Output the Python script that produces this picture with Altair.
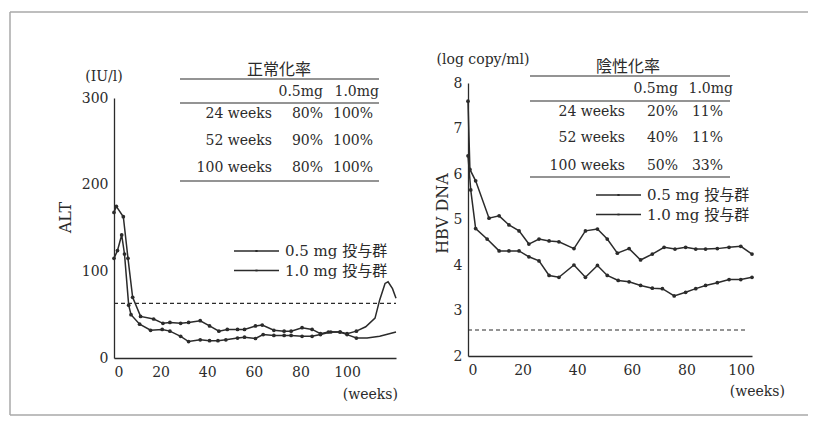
import altair as alt
import pandas as pd

# ---------------- data ----------------
GROUPS = ["0.5 mg 投与群", "1.0 mg 投与群"]
WEEK_TICKS = [0, 20, 40, 60, 80, 100]
ALT_TICKS = [0, 100, 200, 300]
DNA_TICKS = [2, 3, 4, 5, 6, 7, 8]

# ALT (IU/l)
alt05_weeks = [0, 1, 4, 6, 8, 11.4, 17, 21, 24, 28.6, 32, 37, 41, 45, 48.6, 53, 56, 60.7,
               63.6, 68.6, 73, 76, 80.7, 85, 88.6, 92, 97, 100, 104, 108, 112, 114, 116.3,
               117.6, 119.5, 121]
alt05_vals = [168, 175, 163, 115, 70, 48, 45, 40, 41, 40, 41, 43, 37, 31, 33, 33, 33, 37,
              38, 32, 31, 31, 35, 33, 28, 30, 30, 28, 31, 36, 46, 67, 86,
              88, 80, 69]
alt10_weeks = [0, 1.5, 3.3, 4.5, 6.3, 7.3, 11, 15.7, 20.7, 24, 28.6, 32, 37, 41, 44.6, 48,
               53, 56, 60.7, 64, 68.6, 73, 76, 80.7, 85, 88.6, 93, 97, 100, 104, 108.6,
               114, 121]
alt10_vals = [115, 124, 142, 120, 61, 50, 39, 32, 33, 31, 25, 19, 21, 20, 20, 21,
              23, 24, 22.5, 27, 26, 26, 26, 25, 25, 27, 30, 30, 27, 23, 23,
              25, 30]
ALT_ULN = 63

# HBV DNA (log copy/ml)
dna05_weeks = [0, 0.7, 2.8, 7.7, 11.4, 15, 18.7, 22.3, 26, 29.7, 33.3, 38.8, 43, 47.4, 51,
               54.7, 59, 63.2, 67.5, 71.8, 75.8, 79.7, 83.4, 87, 91.3, 95.6, 99.9, 104]
dna05_vals = [7.6, 6.1, 5.85, 5.03, 5.08, 4.88, 4.75, 4.46, 4.57, 4.53, 4.51, 4.36, 4.75,
              4.79, 4.57, 4.26, 4.36, 4.11, 4.24, 4.39, 4.35, 4.39, 4.35, 4.35, 4.36, 4.39,
              4.41, 4.24]
dna10_weeks = [0, 1, 2.8, 7, 11.4, 15, 18.7, 22.3, 26, 29.7, 33.3, 38.8, 43, 47.4, 51, 55,
               59, 63.2, 67.5, 71.2, 75.5, 79.7, 83.4, 87, 91.3, 95.6, 99.9, 104]
dna10_vals = [6.4, 5.65, 4.8, 4.57, 4.31, 4.31, 4.31, 4.18, 4.09, 3.77, 3.73, 4.0, 3.73,
              3.99, 3.77, 3.66, 3.63, 3.55, 3.49, 3.48, 3.32, 3.40, 3.48, 3.55, 3.61, 3.68,
              3.68, 3.73]
DNA_LIMIT = 2.57
DNA_LIMIT_END = 102

# tables
table_cols = ["0.5mg", "1.0mg"]
table_rows = ["24 weeks", "52 weeks", "100 weeks"]
alt_title = "正常化率"
alt_rate05 = ["80%", "90%", "80%"]
alt_rate10 = ["100%", "100%", "100%"]
dna_title = "陰性化率"
dna_rate05 = ["20%", "40%", "50%"]
dna_rate10 = ["11%", "11%", "33%"]

# ---------------- styling ----------------
INK = "#2b2b2b"
SERIF = "DejaVu Serif, Noto Sans CJK JP"
CJK = "Noto Sans CJK JP"
ONE = pd.DataFrame({"k": [0]})
SYM = "M-1,0L1,0M-0.02,-0.02L0.02,-0.02L0.02,0.02L-0.02,0.02Z"


def text(s, x, y, align="left", size=14, font=SERIF):
    return alt.Chart(ONE).mark_text(text=s, align=align, baseline="middle", font=font,
                                    fontSize=size, color=INK).encode(
        x=alt.value(x), y=alt.value(y))


def hline(x1, x2, y, color=INK, width=1.2):
    return alt.Chart(ONE).mark_rule(color=color, strokeWidth=width).encode(
        x=alt.value(x1), x2=alt.value(x2), y=alt.value(y))


def vbar(x1, x2, y1, y2, color=INK):
    return alt.Chart(ONE).mark_rect(color=color, strokeWidth=0).encode(
        x=alt.value(x1), x2=alt.value(x2), y=alt.value(y1), y2=alt.value(y2))


def table(title, r05, r10, g):
    layers = [text(title, g["cx"], g["yt"], align="center", size=16, font=CJK),
              hline(g["x1"], g["x2"], g["l1"]),
              text(table_cols[0], g["c1"], g["yh"], align="right"),
              text(table_cols[1], g["c2h"], g["yh"], align="right"),
              hline(g["x1"], g["x2"], g["l2"]),
              hline(g["x1"], g["x2"], g["l3"])]
    for i, row in enumerate(table_rows):
        layers.append(text(row, g["lab"], g["rows"][i], align="right"))
        layers.append(text(r05[i], g["c1"], g["rows"][i], align="right"))
        layers.append(text(r10[i], g["c2"], g["rows"][i], align="right"))
    return layers


def frame(wa, va, wb, vb):
    return pd.concat([
        pd.DataFrame({"week": wa, "value": va, "group": GROUPS[0]}),
        pd.DataFrame({"week": wb, "value": vb, "group": GROUPS[1]}),
    ], ignore_index=True)


def legend(lx, ly):
    return alt.Legend(orient="none", legendX=lx, legendY=ly, title=None, symbolType=SYM,
                      symbolSize=2025, symbolStrokeWidth=1.3, clipHeight=16, rowPadding=3.5,
                      labelFont=SERIF, labelFontSize=15, labelColor=INK, labelOffset=5,
                      padding=0)


H = 275

# ---------------- ALT panel ----------------
alt_df = frame(alt05_weeks, alt05_vals, alt10_weeks, alt10_vals)
x_alt = alt.X("week:Q", scale=alt.Scale(domain=[0, 121], nice=False, zero=False),
              axis=alt.Axis(values=WEEK_TICKS, title=None, labelPadding=7, format="d"))
y_alt = alt.Y("value:Q", scale=alt.Scale(domain=[0, 300], range=[H, 15], nice=False),
              axis=alt.Axis(values=ALT_TICKS, title="ALT", titleAngle=270, titleX=-49,
                            titleY=134, titleAlign="center", titleBaseline="middle",
                            labelPadding=6, format="d"))
base_alt = alt.Chart(alt_df)
alt_lines = base_alt.mark_line(strokeWidth=1.5).encode(
    x=x_alt, y=y_alt,
    color=alt.Color("group:N", scale=alt.Scale(domain=GROUPS, range=[INK, INK]),
                    legend=legend(119, 160)))
alt_pts = base_alt.transform_filter("datum.week <= 104").mark_circle(
    size=14, color=INK, opacity=1).encode(x="week:Q", y="value:Q")
alt_uln = alt.Chart(pd.DataFrame({"y": [ALT_ULN], "x": [0], "x2": [121]})).mark_rule(
    strokeDash=[4, 3], strokeWidth=1.1, color=INK).encode(x="x:Q", x2="x2:Q", y="y:Q")

alt_geom = dict(cx=165, yt=-13, x1=66, x2=265, l1=-4, l2=20, l3=98, yh=9, c1=209, c2h=265,
                c2=259, lab=158, rows=[31, 58, 85])
FRAME = "#a8a8a8"
left = alt.layer(
    # page frame (left, top and bottom edges of the printed figure)
    hline(-104, 694, -71, color=FRAME, width=1.5),
    vbar(-104.75, -103.25, -71, 332, color=FRAME),
    hline(-104, 694, 332, color=FRAME, width=1.5),
    alt_uln, alt_lines, alt_pts,
    text("(IU/l)", -10, -6, align="center"),
    text("(weeks)", 284, 312, align="right"),
    *table(alt_title, alt_rate05, alt_rate10, alt_geom),
).properties(width=282, height=H)

# ---------------- HBV DNA panel ----------------
dna_df = frame(dna05_weeks, dna05_vals, dna10_weeks, dna10_vals)
x_dna = alt.X("week:Q", scale=alt.Scale(domain=[0, 104], nice=False, zero=False),
              axis=alt.Axis(values=WEEK_TICKS, title=None, labelPadding=7, offset=-2,
                            format="d"))
y_dna = alt.Y("value:Q", scale=alt.Scale(domain=[2, 8], range=[273, 0], nice=False,
                                         zero=False),
              axis=alt.Axis(values=DNA_TICKS, title="HBV DNA", titleAngle=270, titleX=-26,
                            titleY=130, titleAlign="center", titleBaseline="middle",
                            labelPadding=6, format="d"))
base_dna = alt.Chart(dna_df)
dna_lines = base_dna.mark_line(strokeWidth=1.5).encode(
    x=x_dna, y=y_dna,
    color=alt.Color("group:N", scale=alt.Scale(domain=GROUPS, range=[INK, INK]),
                    legend=legend(127, 104)))
dna_pts = base_dna.mark_circle(size=14, color=INK, opacity=1).encode(x="week:Q", y="value:Q")
dna_lim = alt.Chart(pd.DataFrame({"y": [DNA_LIMIT], "x": [0], "x2": [DNA_LIMIT_END]})).mark_rule(
    strokeDash=[4, 3], strokeWidth=1.1, color=INK).encode(x="x:Q", x2="x2:Q", y="y:Q")

dna_geom = dict(cx=160, yt=-16, x1=62, x2=262, l1=-7, l2=18, l3=94, yh=6, c1=210, c2h=265,
                c2=255, lab=157, rows=[29, 55, 83])
right = alt.layer(
    dna_lim, dna_lines, dna_pts,
    text("(log copy/ml)", 15, -23, align="center"),
    text("(weeks)", 317, 309, align="right"),
    *table(dna_title, dna_rate05, dna_rate10, dna_geom),
).properties(width=284, height=H)

chart = alt.hconcat(
    left, right, spacing=72, bounds="flush",
    padding={"left": 1, "top": 3, "right": 0, "bottom": 0},
    background="white",
).resolve_scale(color="independent").resolve_legend(color="independent").configure_view(
    stroke=None
).configure_axis(
    domainColor=INK, domainWidth=1.3, labelFont=SERIF, labelFontSize=14, labelColor=INK,
    ticks=False, tickSize=0, grid=False, titleFont=SERIF, titleFontSize=16,
    titleFontWeight="normal", titleColor=INK,
)

chart.save("out.html", embed_options={"renderer": "svg", "actions": False})
